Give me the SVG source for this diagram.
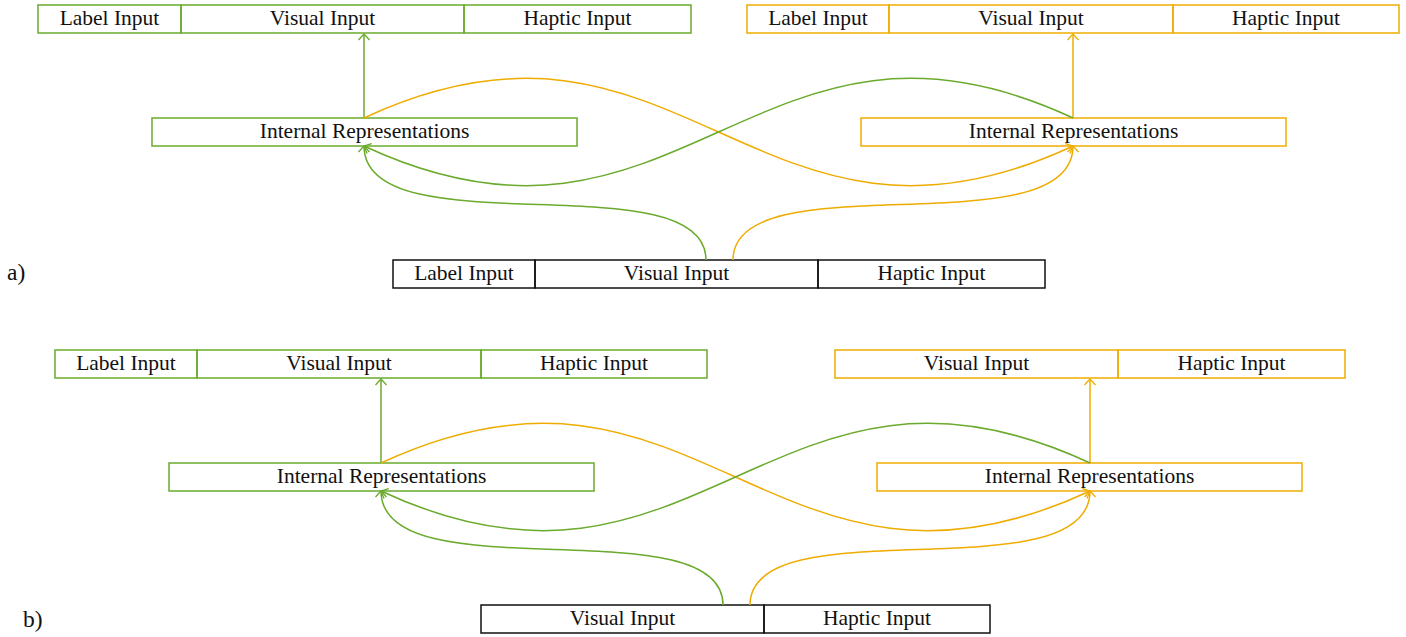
<svg xmlns="http://www.w3.org/2000/svg" width="1406" height="637" viewBox="0 0 1406 637">
  <style>
    text { font-family: "Liberation Serif", "Times New Roman", serif; font-size: 21.5px; fill: #111; text-anchor: middle; }
    .lbl { text-anchor: start; font-size: 23.5px; }
    rect { fill: none; stroke-width: 1.5; }
    .g rect { stroke: #6AAA2C; }
    .o rect { stroke: #EFAC00; }
    .k rect { stroke: #111; }
    path.c { fill: none; stroke-width: 1.5; }
    .cg { stroke: #6AAA2C; }
    .co { stroke: #EFAC00; }
  </style>
  <defs>
    <marker id="ag" viewBox="-8 -7 10 14" markerWidth="10" markerHeight="14" refX="0" refY="0" orient="auto" markerUnits="userSpaceOnUse">
      <path d="M-6,-5.5 Q-1.5,-1.5 0,0 Q-1.5,1.5 -6,5.5" fill="none" stroke="#6AAA2C" stroke-width="1.3"/>
    </marker>
    <marker id="ao" viewBox="-8 -7 10 14" markerWidth="10" markerHeight="14" refX="0" refY="0" orient="auto" markerUnits="userSpaceOnUse">
      <path d="M-6,-5.5 Q-1.5,-1.5 0,0 Q-1.5,1.5 -6,5.5" fill="none" stroke="#EFAC00" stroke-width="1.3"/>
    </marker>
  </defs>

  <rect width="1406" height="637" fill="#fff" stroke="none"/>

  <text class="lbl" x="7" y="280">a)</text>
  <text class="lbl" x="23" y="627">b)</text>

  <!-- panel a -->
  <g id="a-out-left" class="g">
    <rect x="38" y="5" width="143" height="28"/>
    <rect x="181" y="5" width="283" height="28"/>
    <rect x="464" y="5" width="227" height="28"/>
    <text x="109.5" y="24.5">Label Input</text>
    <text x="322.5" y="24.5">Visual Input</text>
    <text x="577.5" y="24.5">Haptic Input</text>
  </g>
  <g id="a-out-right" class="o">
    <rect x="747" y="5" width="142" height="28"/>
    <rect x="889" y="5" width="284" height="28"/>
    <rect x="1173" y="5" width="226" height="28"/>
    <text x="818" y="24.5">Label Input</text>
    <text x="1031" y="24.5">Visual Input</text>
    <text x="1286" y="24.5">Haptic Input</text>
  </g>
  <g id="a-rep-left" class="g">
    <rect x="152" y="118" width="425" height="28"/>
    <text x="364.5" y="137.5">Internal Representations</text>
  </g>
  <g id="a-rep-right" class="o">
    <rect x="861" y="118" width="425" height="28"/>
    <text x="1073.5" y="137.5">Internal Representations</text>
  </g>
  <g id="a-in" class="k">
    <rect x="393" y="260" width="142" height="28"/>
    <rect x="535" y="260" width="283" height="28"/>
    <rect x="818" y="260" width="227" height="28"/>
    <text x="464" y="279.5">Label Input</text>
    <text x="676.5" y="279.5">Visual Input</text>
    <text x="931.5" y="279.5">Haptic Input</text>
  </g>

  <!-- panel b -->
  <g id="b-out-left" class="g">
    <rect x="55" y="350" width="142" height="28"/>
    <rect x="197" y="350" width="284" height="28"/>
    <rect x="481" y="350" width="226" height="28"/>
    <text x="126" y="369.5">Label Input</text>
    <text x="339" y="369.5">Visual Input</text>
    <text x="594" y="369.5">Haptic Input</text>
  </g>
  <g id="b-out-right" class="o">
    <rect x="835" y="350" width="283" height="28"/>
    <rect x="1118" y="350" width="227" height="28"/>
    <text x="976.5" y="369.5">Visual Input</text>
    <text x="1231.5" y="369.5">Haptic Input</text>
  </g>
  <g id="b-rep-left" class="g">
    <rect x="169" y="463" width="425" height="28"/>
    <text x="381.5" y="482.5">Internal Representations</text>
  </g>
  <g id="b-rep-right" class="o">
    <rect x="877" y="463" width="425" height="28"/>
    <text x="1089.5" y="482.5">Internal Representations</text>
  </g>
  <g id="b-in" class="k">
    <rect x="481" y="605" width="283" height="28"/>
    <rect x="764" y="605" width="226" height="28"/>
    <text x="622.5" y="624.5">Visual Input</text>
    <text x="877" y="624.5">Haptic Input</text>
  </g>

  <!-- connectors -->
  <g id="connectors">
    <g id="conn-a">
      <path class="c cg" d="M364,118 V34" marker-end="url(#ag)"/>
      <path class="c co" d="M1073,118 V34" marker-end="url(#ao)"/>
      <path class="c co" d="M364,118 C681,-30 756,294 1073,146" marker-end="url(#ao)"/>
      <path class="c cg" d="M1073,118 C756,-30 681,294 364,146" marker-end="url(#ag)"/>
      <path class="c cg" d="M706,260 C706,160 364,250 364,146" marker-end="url(#ag)"/>
      <path class="c co" d="M733,260 C733,160 1073,250 1073,146" marker-end="url(#ao)"/>
    </g>
    <g id="conn-b" transform="translate(17,345)">
      <path class="c cg" d="M364,118 V34" marker-end="url(#ag)"/>
      <path class="c co" d="M1073,118 V34" marker-end="url(#ao)"/>
      <path class="c co" d="M364,118 C681,-30 756,294 1073,146" marker-end="url(#ao)"/>
      <path class="c cg" d="M1073,118 C756,-30 681,294 364,146" marker-end="url(#ag)"/>
      <path class="c cg" d="M706,260 C706,160 364,250 364,146" marker-end="url(#ag)"/>
      <path class="c co" d="M733,260 C733,160 1073,250 1073,146" marker-end="url(#ao)"/>
    </g>
  </g>
</svg>
